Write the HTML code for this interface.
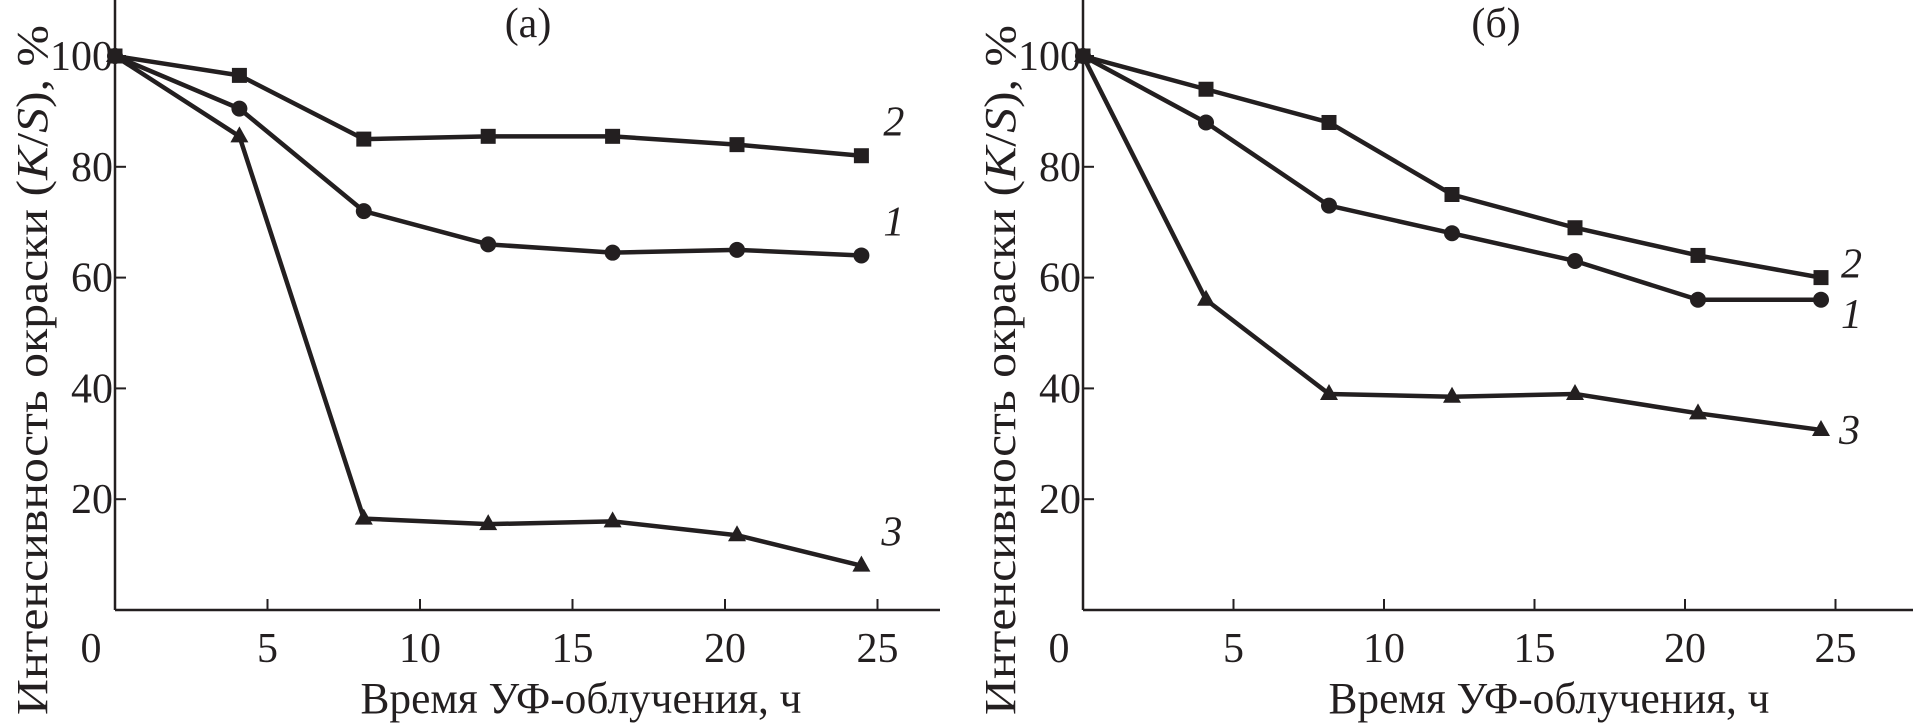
<!DOCTYPE html>
<html><head><meta charset="utf-8"><style>
html,body{margin:0;padding:0;background:#fff;}
svg{display:block;font-family:"Liberation Serif",serif;}
</style></head><body>
<svg id="chart" width="1913" height="727" viewBox="0 0 1913 727" xmlns="http://www.w3.org/2000/svg"></svg>
<script>
const timesHours = [0, 4, 8, 12, 16, 20, 24];
const panelALabels = ["(а)"];
const panelA_series1 = [100, 90.5, 72, 66, 64.5, 65, 64];
const panelA_series2 = [100, 96.5, 85, 85.5, 85.5, 84, 82];
const panelA_series3 = [100, 85.5, 16.5, 15.5, 16, 13.5, 8];
const panelB_series1 = [100, 88, 73, 68, 63, 56, 56];
const panelB_series2 = [100, 94, 88, 75, 69, 64, 60];
const panelB_series3 = [100, 56, 39, 38.5, 39, 35.5, 32.5];
const xTicks = [0, 5, 10, 15, 20, 25];
const yTicks = [20, 40, 60, 80, 100];
const seriesNames = ["1", "2", "3"];

const NS = "http://www.w3.org/2000/svg";
const svg = document.getElementById("chart");
function mk(tag, attrs, parent) {
  const e = document.createElementNS(NS, tag);
  for (const k in attrs) e.setAttribute(k, attrs[k]);
  (parent || svg).appendChild(e);
  return e;
}

function panel(cfg) {
  const g = mk("g", {});
  
  
  const sx = v => cfg.x0 + v * cfg.kx;
  const sy = v => cfg.y0 - v * cfg.ky;
  const ya = mk("line", {x1: cfg.x0, y1: 0, x2: cfg.x0, y2: cfg.y0, stroke: "#231f20", "stroke-width": 2.5}, g);
  
  
  const xa = mk("line", {x1: cfg.x0, y1: cfg.y0, x2: cfg.xEnd, y2: cfg.y0, stroke: "#231f20", "stroke-width": 2.5}, g);
  
  
  xTicks.forEach(t => {
    if (t > 0) mk("line", {x1: cfg.x0 + t * cfg.tickK, y1: cfg.y0, x2: cfg.x0 + t * cfg.tickK, y2: cfg.y0 - 11, stroke: "#231f20", "stroke-width": 2}, g);
    const tx = mk("text", {x: t === 0 ? cfg.x0 - 24 : cfg.x0 + t * cfg.tickK, y: cfg.y0 + 52, "font-size": 42, "text-anchor": "middle", fill: "#231f20"}, g);
    tx.textContent = t;
    
    
  });
  yTicks.forEach(t => {
    mk("line", {x1: cfg.x0, y1: sy(t), x2: cfg.x0 + 11, y2: sy(t), stroke: "#231f20", "stroke-width": 2}, g);
    const tx = mk("text", {x: cfg.x0 - 2, y: sy(t) + 14, "font-size": 42, "text-anchor": "end", fill: "#231f20"}, g);
    tx.textContent = t;
    
    
  });
  const yt = mk("text", {x: 0, y: 0, "font-size": 44, "text-anchor": "middle", fill: "#231f20", textLength: 690, lengthAdjust: "spacingAndGlyphs", transform: `translate(${cfg.x0 - 68},${370}) rotate(-90)`}, g);
  yt.innerHTML = 'Интенсивность окраски (<tspan font-style="italic">K</tspan>/<tspan font-style="italic">S</tspan>), %';
  
  
  const xt = mk("text", {x: cfg.x0 + 466, y: 713, "font-size": 44, "text-anchor": "middle", fill: "#231f20", textLength: 441, lengthAdjust: "spacingAndGlyphs"}, g);
  xt.textContent = "Время УФ-облучения, ч";
  
  
  const tt = mk("text", {x: cfg.x0 + 413, y: 37, "font-size": 42, "text-anchor": "middle", fill: "#231f20"}, g);
  tt.textContent = cfg.title;
  
  

  cfg.series.forEach((vals, i) => {
    const pts = vals.map((v, j) => sx(timesHours[j]) + "," + sy(v)).join(" ");
    const pl = mk("polyline", {points: pts, fill: "none", stroke: "#231f20", "stroke-width": 4.5, "stroke-linejoin": "round"}, g);
    
    
    vals.forEach((v, j) => {
      const cx = sx(timesHours[j]), cy = sy(v);
      let m;
      if (i === 0) m = mk("circle", {cx: cx, cy: cy, r: 8, fill: "#231f20"}, g);
      else if (i === 1) m = mk("rect", {x: cx - 7.5, y: cy - 7.5, width: 15, height: 15, fill: "#231f20"}, g);
      else m = mk("polygon", {points: `${cx},${cy - 10} ${cx - 9},${cy + 6} ${cx + 9},${cy + 6}`, fill: "#231f20"}, g);
      
      
    });
    const last = vals[vals.length - 1];
    const lb = mk("text", {x: sx(24) + cfg.labelDx[i], y: sy(last) + cfg.labelDy[i], "font-size": 42, "font-style": "italic", fill: "#231f20"}, g);
    lb.textContent = seriesNames[i];
    
    
  });
}

panel({name: "panel-a", title: panelALabels[0], x0: 115, xEnd: 940, y0: 610, kx: 31.1, tickK: 30.5, ky: 5.54,
  series: [panelA_series1, panelA_series2, panelA_series3],
  labelDx: [22, 22, 20], labelDy: [-20, -20, -20]});
panel({name: "panel-b", title: "(б)", x0: 1083, xEnd: 1913, y0: 610, kx: 30.75, tickK: 30.1, ky: 5.54,
  series: [panelB_series1, panelB_series2, panelB_series3],
  labelDx: [20, 20, 18], labelDy: [28, 0, 14]});
</script>
</body></html>
